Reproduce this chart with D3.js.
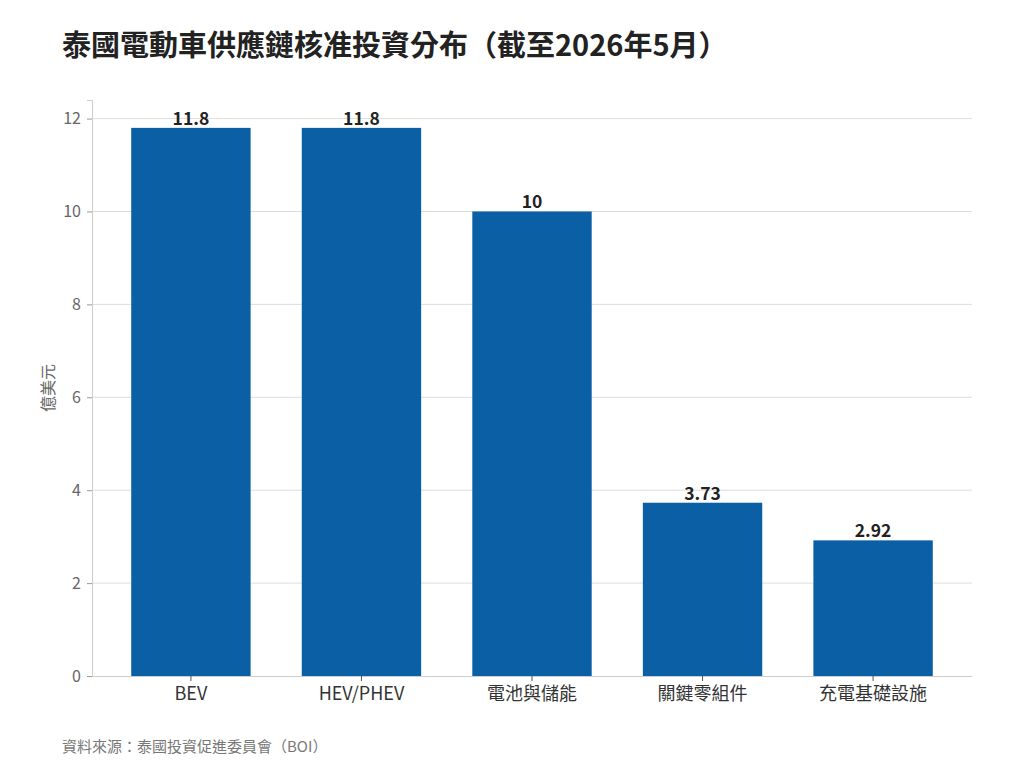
<!DOCTYPE html>
<html>
<head>
<meta charset="utf-8">
<script src="https://cdn.jsdelivr.net/npm/d3@7"></script>
<style>
  body { margin: 0; background: #fff; font-family: "Noto Sans CJK TC", "Noto Sans", sans-serif; }
  svg text { font-family: "Noto Sans CJK TC", "Noto Sans", sans-serif; }
</style>
</head>
<body>
<svg id="chart" width="1024" height="768"></svg>
<script>
const categories = ['BEV', 'HEV/PHEV', '電池與儲能', '關鍵零組件', '充電基礎設施'];
const values = [11.8, 11.8, 10, 3.73, 2.92];
const valueLabels = ['11.8', '11.8', '10', '3.73', '2.92'];
const yTicks = [0, 2, 4, 6, 8, 10, 12];

const margin = { top: 100, right: 52, bottom: 92, left: 92 };
const width = 1024 - margin.left - margin.right;
const height = 768 - margin.top - margin.bottom;

const svg = d3.select('#chart');

svg.append('text')
  .attr('x', 62).attr('y', 56)
  .attr('font-size', 29).attr('font-weight', 700).attr('fill', '#222')
  .text('泰國電動車供應鏈核准投資分布（截至2026年5月）');

const g = svg.append('g').attr('transform', `translate(${margin.left},${margin.top})`);

const x = d3.scaleBand().domain(categories).range([0, width]).paddingInner(0.3).paddingOuter(0.23);
const y = d3.scaleLinear().domain([0, 12.4]).range([height, 0]);

// grid
g.append('g')
  .selectAll('line')
  .data(yTicks.filter(d => d > 0))
  .enter().append('line')
  .attr('x1', 0).attr('x2', width)
  .attr('y1', d => y(d)).attr('y2', d => y(d))
  .attr('stroke', '#dddddd').attr('stroke-width', 1);

// bars
g.selectAll('.bar')
  .data(values)
  .enter().append('rect')
  .attr('class', 'bar')
  .attr('x', (d, i) => x(categories[i]))
  .attr('width', x.bandwidth())
  .attr('y', d => y(d))
  .attr('height', d => height - y(d))
  .attr('fill', '#0b5fa5');

g.selectAll('.val')
  .data(values)
  .enter().append('text')
  .attr('class', 'val')
  .attr('x', (d, i) => x(categories[i]) + x.bandwidth() / 2)
  .attr('y', d => y(d) - 3)
  .attr('text-anchor', 'middle')
  .attr('font-size', 17.5).attr('font-weight', 700).attr('fill', '#222')
  .text((d, i) => valueLabels[i]);

// y axis
const yAxis = g.append('g')
  .call(d3.axisLeft(y).tickValues(yTicks).tickSize(5).tickPadding(6));
yAxis.select('.domain').attr('stroke', '#cccccc');
yAxis.selectAll('.tick line').attr('stroke', '#999');
yAxis.selectAll('.tick text').attr('font-size', 16).attr('fill', '#666');

// x axis
const xAxis = g.append('g')
  .attr('transform', `translate(0,${height})`)
  .call(d3.axisBottom(x).tickSize(5).tickPadding(6).tickSizeOuter(0));
xAxis.select('.domain').attr('stroke', '#cccccc');
xAxis.selectAll('.tick line').attr('stroke', '#555');
xAxis.selectAll('.tick text').attr('font-size', 18).attr('fill', '#333');

svg.append('text')
  .attr('transform', `translate(54,${margin.top + height / 2}) rotate(-90)`)
  .attr('text-anchor', 'middle')
  .attr('font-size', 16).attr('fill', '#666')
  .text('億美元');

svg.append('text')
  .attr('x', 62).attr('y', 752)
  .attr('font-size', 15).attr('fill', '#777')
  .text('資料來源：泰國投資促進委員會（BOI）');
</script>
</body>
</html>
